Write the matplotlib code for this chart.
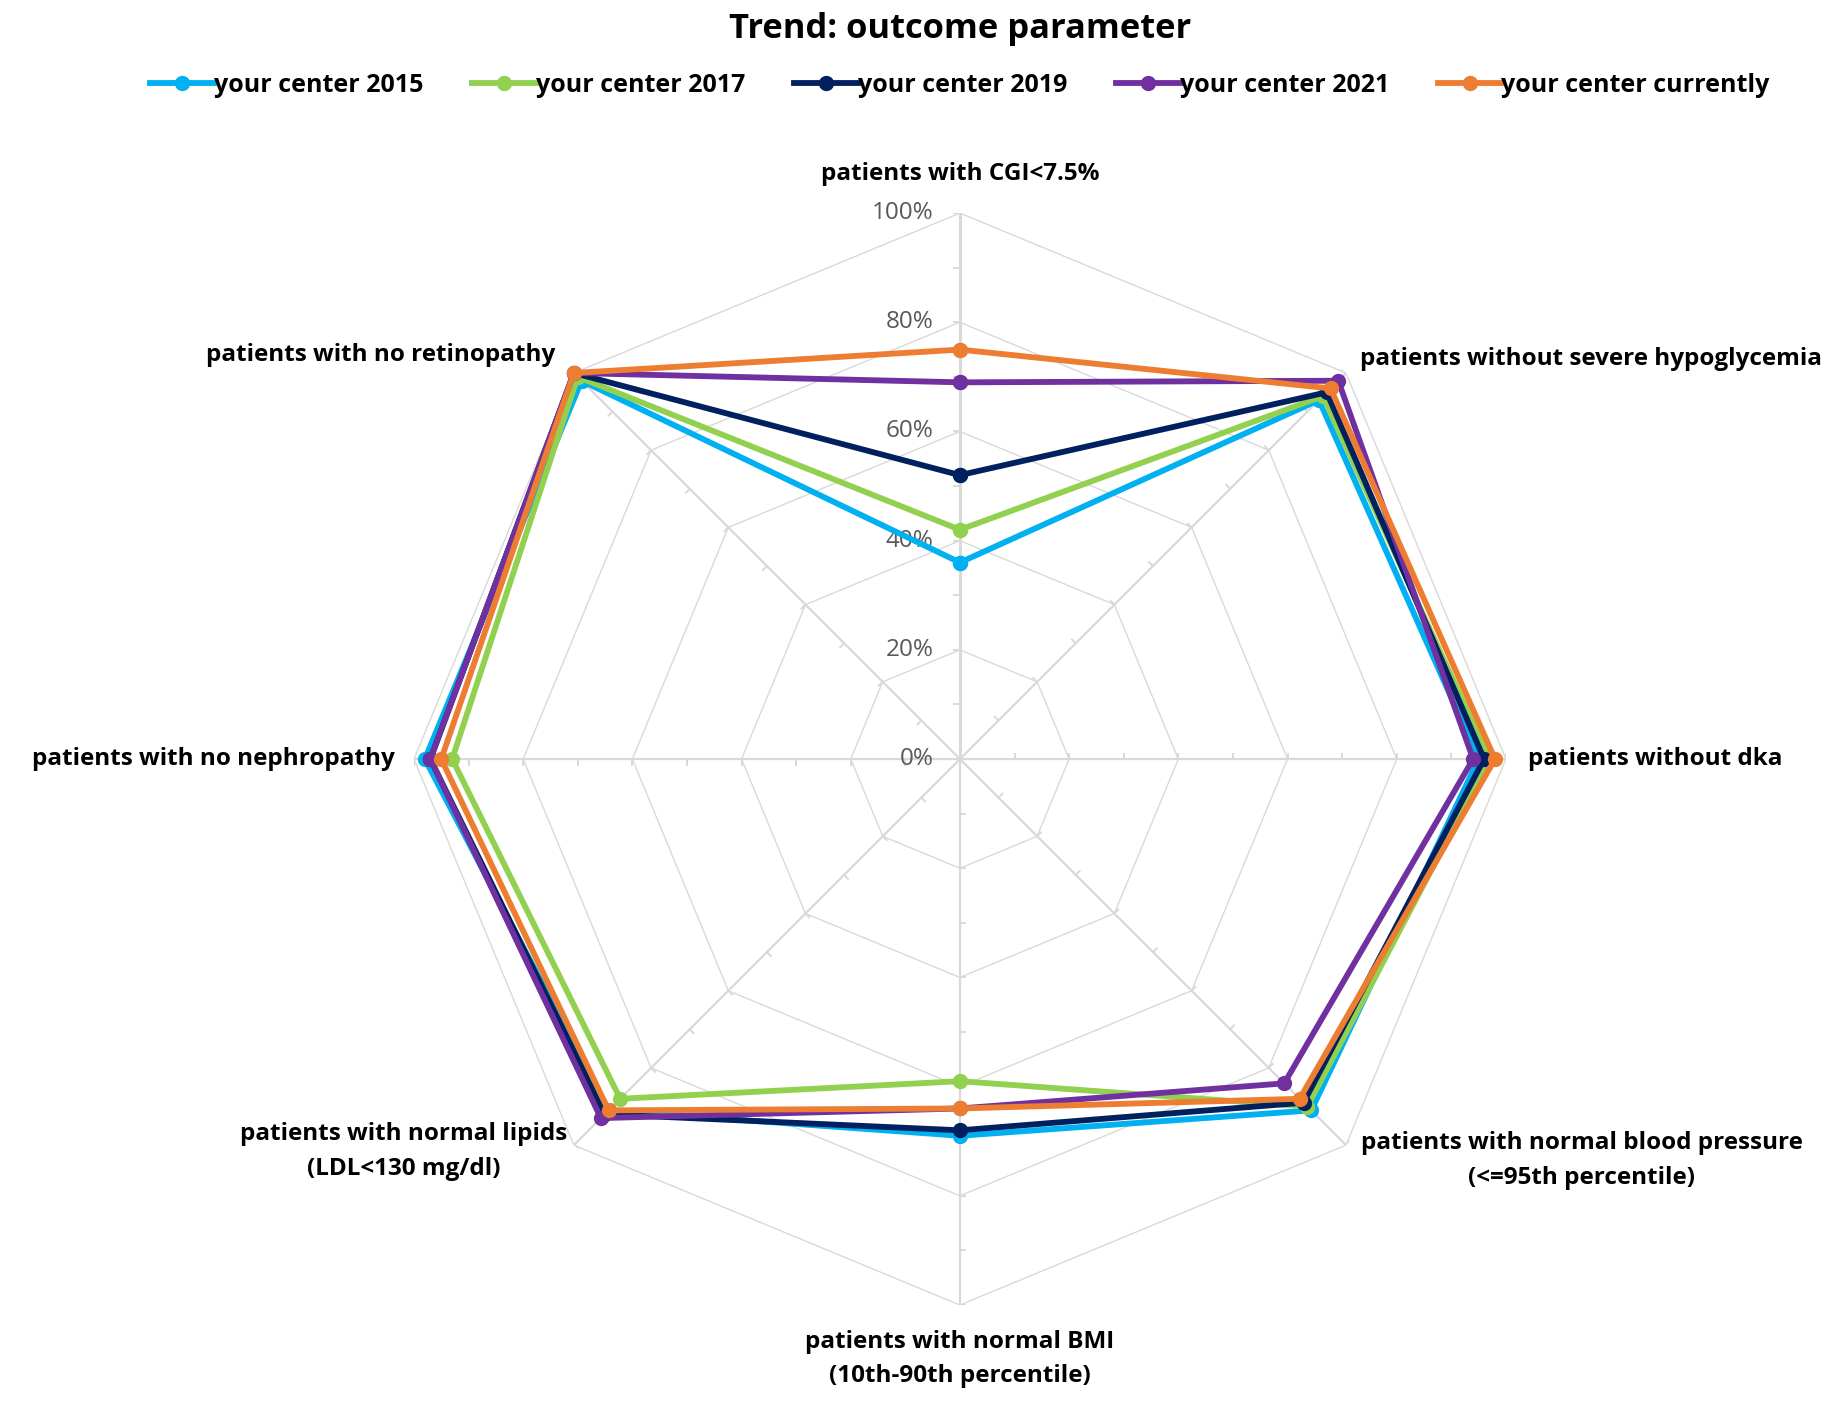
import numpy as np
import matplotlib.pyplot as plt

plt.rcParams['font.family'] = ['Open Sans', 'DejaVu Sans']

categories = ['patients with CGI<7.5%',
              'patients without severe hypoglycemia',
              'patients without dka',
              'patients with normal blood pressure\n(<=95th percentile)',
              'patients with normal BMI\n(10th-90th percentile)',
              'patients with normal lipids\n(LDL<130 mg/dl)',
              'patients with no nephropathy',
              'patients with no retinopathy']

series_names = ['your center 2015', 'your center 2017', 'your center 2019',
                'your center 2021', 'your center currently']
v2015 = [36, 93, 95, 91, 69, 91, 98, 98]
v2017 = [42, 94, 97, 90, 59, 88, 93, 99]
v2019 = [52, 95, 96, 89, 68, 92, 97, 100]
v2021 = [69, 98, 94, 84, 64, 93, 97, 100]
vcurr = [75, 96, 98, 88, 64, 91, 95, 100]
colors = ['#00B0F0', '#92D050', '#002060', '#7030A0', '#ED7D31']

rticks = [0, 20, 40, 60, 80, 100]

n = len(categories)
theta = np.arange(n) * 2 * np.pi / n

fig = plt.figure(figsize=(18.43, 14.01), dpi=100)
ax = fig.add_axes([0.2246, 0.0685, 0.5925, 0.7794], projection='polar')
ax.set_theta_zero_location('N')
ax.set_theta_direction(-1)
ax.set_ylim(0, 100)
ax.axis('off')

grid_c = '#d9d9d9'
tclosed = np.append(theta, theta[0])
# polygon grid
for r in rticks[1:]:
    ax.plot(tclosed, [r] * (n + 1), color=grid_c, lw=1.0, zorder=1)
# spokes
for i, t in enumerate(theta):
    ax.plot([t, t], [0, 100], color=grid_c, lw=2.2 if i == 0 else 1.6, zorder=1)
    # small ticks every 10%
    for r in range(10, 101, 10):
        d = 1.0
        ax.plot([t, t - np.arctan(d / r)], [r, np.hypot(r, d)], color=grid_c,
                lw=1.4, zorder=1)

# tick labels
for r in rticks:
    ax.annotate(f'{r}%', xy=(0, r), xytext=(-19, 0), textcoords='offset points',
                ha='right', va='center', fontsize=17.5, color='#595959')

# data
for name, vals, c in zip(series_names, [v2015, v2017, v2019, v2021, vcurr], colors):
    ax.plot(tclosed, vals + vals[:1], color=c, lw=4.2, marker='o', markersize=10,
            label=name, zorder=3, clip_on=False)

# category labels
lab_pos = [(107.1, 'center', 'center'), (103.7, 'left', 'center'), (104, 'left', 'center'),
           (103.9, 'left', 'center'), (109.9, 'center', 'center'), (101.7, 'right', 'center'),
           (103.6, 'right', 'center'), (104.7, 'right', 'center')]
for t, lab, (r, ha, va) in zip(theta, categories, lab_pos):
    ax.text(t, r, lab, ha=ha, va=va, ma='center', fontsize=17.5, fontweight='bold',
            color='black', linespacing=1.6)

fig.text(0.5209, 1 - 29.5 / 1401, 'Trend: outcome parameter', ha='center', va='center',
         fontsize=24.8, fontweight='bold')
fig.legend(loc='center', bbox_to_anchor=(0.5209, 1 - 85.5 / 1401), ncol=5, frameon=False,
           handlelength=2.55, handletextpad=0.0, columnspacing=1.95,
           prop={'weight': 'bold', 'size': 18})

fig.savefig('out.png', dpi=100)
